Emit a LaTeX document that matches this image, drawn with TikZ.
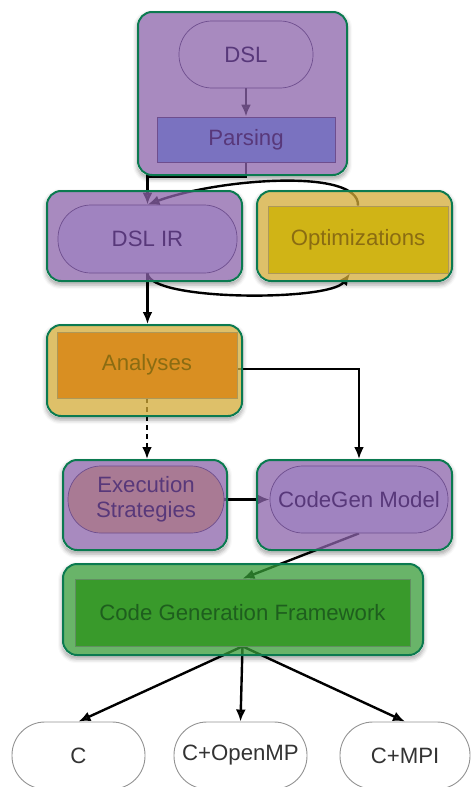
\documentclass[tikz,border=0pt]{standalone}
\usepackage{fontspec}
\setmainfont{Liberation Sans}
\usetikzlibrary{arrows.meta,shadows.blur}
\pgfdeclarelayer{bg}
\pgfdeclarelayer{edges}
\pgfsetlayers{bg,edges,main}

% colours
\definecolor{boxpurple}{HTML}{8C64AA}
\definecolor{boxtan}{HTML}{D4AB38}
\definecolor{boxgreen}{HTML}{389C38}
\definecolor{frame}{HTML}{0B7A50}
\definecolor{stadpurple}{HTML}{A083C0}
\definecolor{stadline}{HTML}{6E4E8E}
\definecolor{parsefill}{HTML}{7A72C0}
\definecolor{optfill}{HTML}{D0B416}
\definecolor{anfill}{HTML}{D98F22}
\definecolor{exfill}{HTML}{A97A94}
\definecolor{cgffill}{HTML}{399A2B}
\definecolor{txtpurple}{HTML}{58387A}
\definecolor{txtolive}{HTML}{8A6C12}
\definecolor{txtgreen}{HTML}{1E5E1E}

\tikzset{
  every node/.style={font=\fontsize{22.2}{25}\selectfont, align=center, inner sep=0pt},
  stage/.style={draw=frame, line width=2pt, rounded corners=14pt, fill opacity=0.75,
                text opacity=1},
  stadium/.style={draw=stadline, line width=0.7pt, rounded corners=33pt, fill=stadpurple,
                  text=txtpurple},
  plainbox/.style={line width=0.7pt},
  target/.style={draw=gray!85, line width=0.9pt, rounded corners=33pt, fill=white,
                 text=black!80, minimum height=67pt},
  arr/.style={line width=2.4pt, -{Latex[length=12pt,width=10pt]}},
  backing/.style={fill=white, rounded corners=14pt,
                  blur shadow={shadow xshift=0pt, shadow yshift=-3pt,
                               shadow blur radius=4pt, shadow opacity=35}},
}

\begin{document}
\begin{tikzpicture}[x=1pt,y=-1pt]
\useasboundingbox (0,0) rectangle (471,787);
\clip (0,0) rectangle (471,787);

% outer stage boxes
\node[stage, fill=boxpurple, minimum width=209pt, minimum height=163pt] (topbox) at (242.5,93.5) {};
\node[stage, fill=boxpurple, minimum width=195pt, minimum height=90pt] (irbox) at (144.5,236) {};
\node[stage, fill=boxtan, minimum width=195pt, minimum height=90pt] (optbox) at (354.5,236) {};
\node[stage, fill=boxtan, minimum width=195pt, minimum height=91pt] (anbox) at (144.5,370.5) {};
\node[stage, fill=boxpurple, minimum width=164pt, minimum height=90pt] (exbox) at (145,505) {};
\node[stage, fill=boxpurple, minimum width=195pt, minimum height=90pt] (cgbox) at (354.5,505) {};
\node[stage, fill=boxgreen, minimum width=360pt, minimum height=91pt] (cgfbox) at (243,609.5) {};

% white backings with soft shadows below the translucent boxes
\begin{pgfonlayer}{bg}
  \foreach \b in {topbox,irbox,optbox,anbox,exbox,cgbox,cgfbox}
    \path[backing] (\b.north west) rectangle (\b.south east);
\end{pgfonlayer}

% inner shapes
\node[stadium, minimum width=134pt, minimum height=67pt, fill=none] (dsl) at (246,54.5) {DSL};
\node[plainbox, draw=stadline, fill=parsefill, text=txtpurple, minimum width=178pt, minimum height=45pt] (parsing) at (246,139.5) {Parsing};
\node[stadium, minimum width=179pt, minimum height=68pt] (dslir) at (147.5,239) {DSL IR};
\node[plainbox, draw=txtolive!70, fill=optfill, text=txtolive, minimum width=180pt, minimum height=67pt] (opt) at (358,239.5) {Optimizations};
\node[plainbox, draw=txtolive!70, fill=anfill, text=txtolive, minimum width=180pt, minimum height=66pt] (an) at (147,365) {Analyses};
\node[stadium, fill=exfill, minimum width=156pt, minimum height=67pt] (exec) at (146,499.5) {Execution\\Strategies};
\node[stadium, minimum width=178pt, minimum height=67pt] (cgm) at (359,499.5) {CodeGen Model};
\node[plainbox, draw=txtgreen!70, fill=cgffill, text=txtgreen, minimum width=335pt, minimum height=67pt] (cgf) at (242.5,612.5) {Code Generation Framework};

% output targets
\node[target, minimum width=133pt] (tc) at (78.5,755.5) {C};
\node[target, minimum width=133pt] (tomp) at (240.5,755.5) {C+OpenMP};
\node[target, minimum width=130pt] (tmpi) at (405,755.5) {C+MPI};

% connectors, drawn beneath the translucent stage boxes
\begin{pgfonlayer}{edges}
  \draw[arr] (dsl.south) -- (parsing.north);
  \draw[arr] (parsing.south) -- ++(0,14) -| (dslir.north);
  \draw[arr] (opt.north) .. controls +(2,-38) and +(70,-26) .. (dslir.north);
  \draw[arr] (dslir.south) .. controls +(2,28) and +(-20,28) .. ([xshift=-8pt]opt.south);
  \draw[arr] (dslir.south) -- (dslir.south |- anbox.north);
  \draw[arr, dash pattern=on 5pt off 4pt] (an.south) -- (an.south |- exbox.north);
  \draw[arr] ([yshift=-4pt]an.east) -| (cgm.north |- cgbox.north);
  \draw[arr] (exec.east) -- (cgm.west);
  \draw[arr] (cgm.south) -- (cgf.north);
  \draw[arr] (cgf.south) -- (tc.north);
  \draw[arr] (cgf.south) -- (tomp.north);
  \draw[arr] (cgf.south) -- (tmpi.north);
\end{pgfonlayer}
\end{tikzpicture}
\end{document}
